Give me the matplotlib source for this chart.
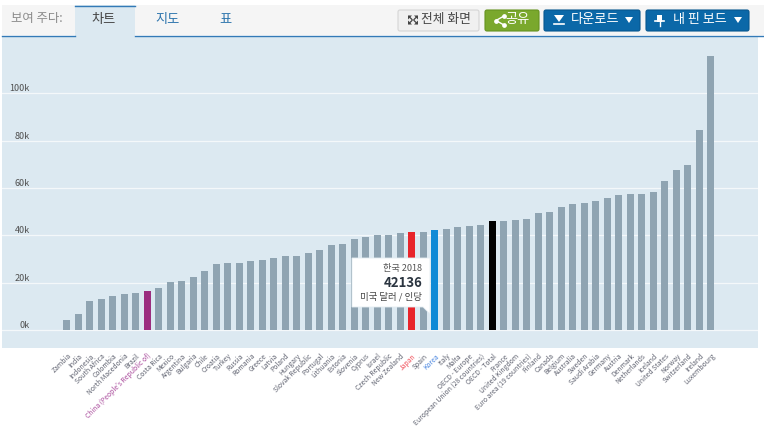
import matplotlib
matplotlib.use("Agg")
import matplotlib.pyplot as plt
from matplotlib.patches import FancyBboxPatch, Polygon, Rectangle

plt.rcParams['font.family'] = ['Noto Sans CJK KR', 'DejaVu Sans']

countries = ["Zambia", "India", "Indonesia", "South Africa", "Colombia", "North Macedonia", "Brazil",
             "China (People's Republic of)", "Costa Rica", "Mexico", "Argentina", "Bulgaria", "Chile",
             "Croatia", "Turkey", "Russia", "Romania", "Greece", "Latvia", "Poland", "Hungary",
             "Slovak Republic", "Portugal", "Lithuania", "Estonia", "Slovenia", "Cyprus", "Israel",
             "Czech Republic", "New Zealand", "Japan", "Spain", "Korea", "Italy", "Malta", "OECD - Europe",
             "European Union (28 countries)", "OECD - Total", "France", "United Kingdom",
             "Euro area (19 countries)", "Finland", "Canada", "Belgium", "Australia", "Sweden",
             "Saudi Arabia", "Germany", "Austria", "Denmark", "Netherlands", "Iceland", "United States",
             "Norway", "Switzerland", "Ireland", "Luxembourg"]
values = [4200, 6800, 12400, 13200, 14200, 15200, 15800, 16400, 17600, 20400, 20600, 22500, 24800,
          28000, 28200, 28400, 29000, 29800, 30600, 31400, 31400, 32400, 34000, 36000, 36200, 38600,
          39400, 40000, 40200, 41200, 41400, 41600, 42136, 42600, 43400, 44000, 44200, 46000, 46200,
          46600, 47000, 49600, 50000, 52200, 53400, 53800, 54600, 55800, 57000, 57400, 57600, 58400,
          63000, 67800, 69600, 84400, 116000]
y_ticks = [0, 20000, 40000, 60000, 80000, 100000]
y_labels = ["0k", "20k", "40k", "60k", "80k", "100k"]
highlight_bars = {"China (People's Republic of)": "#9b2d7f", "Japan": "#e8252b", "Korea": "#0f8ad6",
                  "OECD - Total": "#000000"}
highlight_text = {"China (People's Republic of)": "#a8489a", "Japan": "#f0505a", "Korea": "#4a86e0"}

PANEL = "#dce9f1"
BAR = "#8fa4b2"
W, H = 764, 428

fig = plt.figure(figsize=(W / 100, H / 100), dpi=100, facecolor="white")
ax = fig.add_axes([2 / W, 1 - 348 / H, 756 / W, 312 / H], facecolor=PANEL)

xs = list(range(len(countries)))
colors = [highlight_bars.get(c, BAR) for c in countries]
ax.bar(xs, values, width=0.61, color=colors, zorder=3)
ax.set_xlim(-5.65, 60.09)
ax.set_ylim(-7600, 124300)

ax.set_yticks(y_ticks, y_labels)
ax.grid(axis="y", color="#f4f8fa", linewidth=0.9, zorder=1)
ax.set_axisbelow(True)
ax.tick_params(axis="y", length=0, pad=-20, labelsize=6.5, labelcolor="#505050")
for lab in ax.get_yticklabels():
    lab.set_va("bottom")
    lab.set_ha("right")

ax.set_xticks(xs, countries, rotation=45, ha="right", va="top", rotation_mode="anchor")
ax.tick_params(axis="x", length=0, pad=3, labelsize=4.9, labelcolor="#5f6270")
for lab, c in zip(ax.get_xticklabels(), countries):
    if c in highlight_text:
        lab.set_color(highlight_text[c])
for s in ax.spines.values():
    s.set_visible(False)

# page furniture, drawn in pixel coordinates on top of the chart
ui = fig.add_axes([0, 0, 1, 1], facecolor="none", zorder=5)
ui.set_xlim(0, W)
ui.set_ylim(H, 0)
ui.axis("off")

ui.add_patch(Rectangle((2, 5), 762, 30, color="#f5f5f5", lw=0))
ui.plot([2, 75], [35.5, 35.5], color="#337ab7", lw=1)
ui.plot([135, 764], [35.5, 35.5], color="#337ab7", lw=1)
ui.add_patch(Rectangle((75, 5), 60, 31, color=PANEL, lw=0))
ui.plot([75, 135], [5.5, 5.5], color="#337ab7", lw=1)
ui.text(11, 18, "보여 주다:", fontsize=8.9, color="#8a8a8a", va="center")
ui.text(104, 19.5, "차트", fontsize=9.5, color="#444444", ha="center", va="center")
ui.text(168, 19.5, "지도", fontsize=9.5, color="#2d75ad", ha="center", va="center")
ui.text(225, 19.5, "표", fontsize=9.5, color="#2d75ad", ha="center", va="center")


def button(x0, x1, face, edge):
    ui.add_patch(FancyBboxPatch((x0 + 1, 10), x1 - x0 - 2, 21, boxstyle="round,pad=0,rounding_size=2",
                                facecolor=face, edgecolor=edge, linewidth=0.8))


button(397, 480, "#f0f0f0", "#d5d5d5")
button(484, 540, "#7aa82d", "#66931f")
button(543, 641, "#0b68a8", "#07578f")
button(645, 750, "#0b68a8", "#07578f")

# fullscreen icon, four small corner arrows
for cx, cy, sx, sy in [(408, 15.5, 1, 1), (418, 15.5, -1, 1), (408, 24.5, 1, -1), (418, 24.5, -1, -1)]:
    ui.add_patch(Polygon([(cx, cy), (cx + 4 * sx, cy), (cx, cy + 4 * sy)], color="#444444", lw=0))
    ui.plot([cx + sx, cx + 4 * sx], [cy + sy, cy + 4 * sy], color="#444444", lw=0.9)
ui.text(446, 19.5, "전체 화면", fontsize=9.2, color="#444444", ha="center", va="center")
# share icon
ui.plot([504, 496, 504], [16, 20.5, 25], color="white", lw=1)
ui.plot([504, 496, 504], [16, 20.5, 25], "o", color="white", ms=2.4)
ui.text(518, 19.5, "공유", fontsize=9.5, color="white", ha="center", va="center")
# download icon
ui.add_patch(Polygon([(554, 15), (564, 15), (559, 22)], color="white", lw=0))
ui.plot([554, 564], [24, 24], color="white", lw=1.2)
ui.text(595, 19.5, "다운로드", fontsize=9.5, color="white", ha="center", va="center")
ui.add_patch(Polygon([(625, 17), (633, 17), (629, 23)], color="white", lw=0))
# pin icon
ui.add_patch(Rectangle((657, 15), 5, 7, color="white", lw=0))
ui.plot([655, 664], [21, 21], color="white", lw=1.2)
ui.plot([659.5, 659.5], [21, 26], color="white", lw=1)
ui.text(700, 19.5, "내 핀 보드", fontsize=9.4, color="white", ha="center", va="center")
ui.add_patch(Polygon([(734, 17), (742, 17), (738, 23)], color="white", lw=0))

# tooltip for Korea
ui.add_patch(Polygon([(352, 258), (430, 258), (430, 314), (423, 307), (352, 307)],
                     facecolor="white", edgecolor="#e4ecf1", linewidth=0.6))
ui.text(422, 269, "한국 2018", fontsize=6.6, color="#555555", ha="right", va="center")
ui.text(422, 283, "42136", fontsize=9.5, fontweight="bold", color="#2b3540", ha="right", va="center")
ui.text(422, 297, "미국 달러 / 인당", fontsize=6.8, color="#444444", ha="right", va="center")

fig.savefig("out.png", dpi=100)
